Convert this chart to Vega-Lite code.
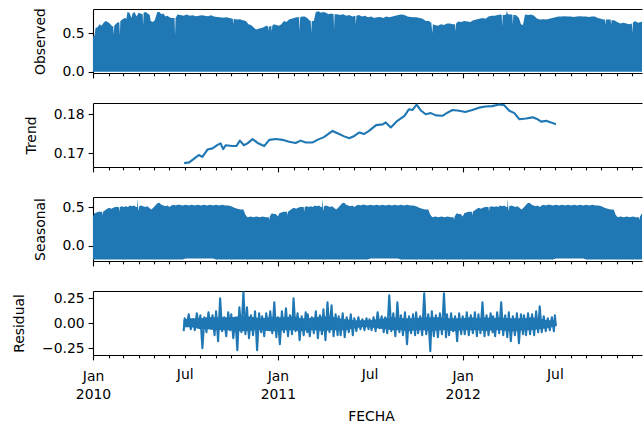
{
  "$schema": "https://vega.github.io/schema/vega-lite/v6.json",
  "padding": {"left": 12, "top": 7, "right": 0, "bottom": 0},
  "autosize": {"type": "pad"},
  "spacing": 30,
  "bounds": "flush",
  "config": {
    "font": "DejaVu Sans",
    "view": {"stroke": null},
    "axis": {
      "domainColor": "#000",
      "domainWidth": 1.1,
      "tickColor": "#000",
      "tickWidth": 1.1,
      "labelColor": "#000",
      "labelFontSize": 13.9,
      "titleFontSize": 13.9,
      "titleFontWeight": "normal",
      "titleColor": "#000",
      "grid": false
    }
  },
  "datasets": {
    "observed": [
      {"t": "2010-01-01", "v": 0.46}, {"t": "2010-01-04", "v": 0.47}, {"t": "2010-01-06", "v": 0.57},
      {"t": "2010-01-10", "v": 0.58}, {"t": "2010-01-14", "v": 0.62}, {"t": "2010-01-18", "v": 0.60},
      {"t": "2010-01-22", "v": 0.64}, {"t": "2010-01-26", "v": 0.66}, {"t": "2010-01-30", "v": 0.65},
      {"t": "2010-02-03", "v": 0.63}, {"t": "2010-02-07", "v": 0.60}, {"t": "2010-02-10", "v": 0.59},
      {"t": "2010-02-11", "v": 0.48}, {"t": "2010-02-12", "v": 0.60}, {"t": "2010-02-16", "v": 0.63},
      {"t": "2010-02-20", "v": 0.65}, {"t": "2010-02-22", "v": 0.64}, {"t": "2010-02-23", "v": 0.48},
      {"t": "2010-02-24", "v": 0.66}, {"t": "2010-02-28", "v": 0.68}, {"t": "2010-03-04", "v": 0.70},
      {"t": "2010-03-08", "v": 0.69}, {"t": "2010-03-10", "v": 0.78}, {"t": "2010-03-14", "v": 0.77},
      {"t": "2010-03-18", "v": 0.70}, {"t": "2010-03-20", "v": 0.76}, {"t": "2010-03-24", "v": 0.78},
      {"t": "2010-03-28", "v": 0.72}, {"t": "2010-04-01", "v": 0.77}, {"t": "2010-04-05", "v": 0.76},
      {"t": "2010-04-09", "v": 0.75}, {"t": "2010-04-10", "v": 0.60}, {"t": "2010-04-11", "v": 0.77},
      {"t": "2010-04-15", "v": 0.78}, {"t": "2010-04-19", "v": 0.76}, {"t": "2010-04-23", "v": 0.74},
      {"t": "2010-04-25", "v": 0.66}, {"t": "2010-04-29", "v": 0.65}, {"t": "2010-05-03", "v": 0.67},
      {"t": "2010-05-08", "v": 0.78}, {"t": "2010-05-12", "v": 0.78}, {"t": "2010-05-16", "v": 0.75},
      {"t": "2010-05-20", "v": 0.76}, {"t": "2010-05-24", "v": 0.72}, {"t": "2010-05-28", "v": 0.73},
      {"t": "2010-06-01", "v": 0.71}, {"t": "2010-06-05", "v": 0.70}, {"t": "2010-06-11", "v": 0.70},
      {"t": "2010-06-12", "v": 0.47}, {"t": "2010-06-13", "v": 0.70}, {"t": "2010-06-17", "v": 0.745},
      {"t": "2010-06-23", "v": 0.74}, {"t": "2010-06-29", "v": 0.73}, {"t": "2010-07-05", "v": 0.745},
      {"t": "2010-07-11", "v": 0.73}, {"t": "2010-07-17", "v": 0.735}, {"t": "2010-07-23", "v": 0.725},
      {"t": "2010-07-29", "v": 0.73}, {"t": "2010-08-04", "v": 0.735}, {"t": "2010-08-10", "v": 0.73},
      {"t": "2010-08-16", "v": 0.725}, {"t": "2010-08-22", "v": 0.735}, {"t": "2010-08-28", "v": 0.72},
      {"t": "2010-09-03", "v": 0.715}, {"t": "2010-09-09", "v": 0.71}, {"t": "2010-09-15", "v": 0.705},
      {"t": "2010-09-21", "v": 0.71}, {"t": "2010-09-27", "v": 0.70}, {"t": "2010-10-04", "v": 0.69},
      {"t": "2010-10-05", "v": 0.62}, {"t": "2010-10-06", "v": 0.69}, {"t": "2010-10-12", "v": 0.68},
      {"t": "2010-10-18", "v": 0.685}, {"t": "2010-10-24", "v": 0.67}, {"t": "2010-10-30", "v": 0.66},
      {"t": "2010-11-04", "v": 0.62}, {"t": "2010-11-09", "v": 0.61}, {"t": "2010-11-14", "v": 0.58},
      {"t": "2010-11-19", "v": 0.55}, {"t": "2010-11-24", "v": 0.56}, {"t": "2010-11-29", "v": 0.57},
      {"t": "2010-12-04", "v": 0.58}, {"t": "2010-12-09", "v": 0.60}, {"t": "2010-12-13", "v": 0.59},
      {"t": "2010-12-14", "v": 0.53}, {"t": "2010-12-15", "v": 0.59}, {"t": "2010-12-19", "v": 0.60},
      {"t": "2010-12-20", "v": 0.52}, {"t": "2010-12-21", "v": 0.60}, {"t": "2010-12-24", "v": 0.62},
      {"t": "2010-12-29", "v": 0.61}, {"t": "2011-01-03", "v": 0.60}, {"t": "2011-01-08", "v": 0.62},
      {"t": "2011-01-13", "v": 0.66}, {"t": "2011-01-18", "v": 0.65}, {"t": "2011-01-23", "v": 0.68},
      {"t": "2011-01-28", "v": 0.69}, {"t": "2011-02-02", "v": 0.70}, {"t": "2011-02-07", "v": 0.71},
      {"t": "2011-02-12", "v": 0.71}, {"t": "2011-02-13", "v": 0.52}, {"t": "2011-02-14", "v": 0.71},
      {"t": "2011-02-18", "v": 0.72}, {"t": "2011-02-23", "v": 0.72}, {"t": "2011-02-28", "v": 0.70},
      {"t": "2011-03-04", "v": 0.67}, {"t": "2011-03-07", "v": 0.66}, {"t": "2011-03-08", "v": 0.50},
      {"t": "2011-03-09", "v": 0.66}, {"t": "2011-03-13", "v": 0.66}, {"t": "2011-03-17", "v": 0.78},
      {"t": "2011-03-22", "v": 0.79}, {"t": "2011-03-27", "v": 0.77}, {"t": "2011-04-01", "v": 0.78},
      {"t": "2011-04-06", "v": 0.77}, {"t": "2011-04-11", "v": 0.75}, {"t": "2011-04-16", "v": 0.76},
      {"t": "2011-04-21", "v": 0.75}, {"t": "2011-04-22", "v": 0.55}, {"t": "2011-04-23", "v": 0.75},
      {"t": "2011-04-28", "v": 0.75}, {"t": "2011-05-04", "v": 0.74}, {"t": "2011-05-10", "v": 0.75},
      {"t": "2011-05-16", "v": 0.73}, {"t": "2011-05-22", "v": 0.74}, {"t": "2011-05-28", "v": 0.72},
      {"t": "2011-06-03", "v": 0.73}, {"t": "2011-06-04", "v": 0.61}, {"t": "2011-06-05", "v": 0.73},
      {"t": "2011-06-10", "v": 0.74}, {"t": "2011-06-16", "v": 0.72}, {"t": "2011-06-22", "v": 0.73},
      {"t": "2011-06-28", "v": 0.71}, {"t": "2011-07-04", "v": 0.72}, {"t": "2011-07-10", "v": 0.70},
      {"t": "2011-07-16", "v": 0.71}, {"t": "2011-07-22", "v": 0.715}, {"t": "2011-07-28", "v": 0.70},
      {"t": "2011-08-03", "v": 0.72}, {"t": "2011-08-09", "v": 0.71}, {"t": "2011-08-15", "v": 0.72},
      {"t": "2011-08-21", "v": 0.73}, {"t": "2011-08-27", "v": 0.74}, {"t": "2011-09-02", "v": 0.745},
      {"t": "2011-09-08", "v": 0.74}, {"t": "2011-09-14", "v": 0.72}, {"t": "2011-09-20", "v": 0.715},
      {"t": "2011-09-26", "v": 0.71}, {"t": "2011-10-02", "v": 0.71}, {"t": "2011-10-08", "v": 0.70},
      {"t": "2011-10-14", "v": 0.69}, {"t": "2011-10-20", "v": 0.66}, {"t": "2011-10-26", "v": 0.66},
      {"t": "2011-10-31", "v": 0.64}, {"t": "2011-11-02", "v": 0.50}, {"t": "2011-11-03", "v": 0.62},
      {"t": "2011-11-07", "v": 0.61}, {"t": "2011-11-13", "v": 0.60}, {"t": "2011-11-19", "v": 0.62},
      {"t": "2011-11-25", "v": 0.61}, {"t": "2011-12-01", "v": 0.63}, {"t": "2011-12-07", "v": 0.63},
      {"t": "2011-12-12", "v": 0.62}, {"t": "2011-12-17", "v": 0.62}, {"t": "2011-12-18", "v": 0.52},
      {"t": "2011-12-19", "v": 0.63}, {"t": "2011-12-23", "v": 0.655}, {"t": "2011-12-29", "v": 0.65},
      {"t": "2012-01-04", "v": 0.66}, {"t": "2012-01-10", "v": 0.655}, {"t": "2012-01-16", "v": 0.65},
      {"t": "2012-01-22", "v": 0.67}, {"t": "2012-01-28", "v": 0.68}, {"t": "2012-02-03", "v": 0.69},
      {"t": "2012-02-09", "v": 0.70}, {"t": "2012-02-15", "v": 0.69}, {"t": "2012-02-21", "v": 0.72},
      {"t": "2012-02-27", "v": 0.73}, {"t": "2012-03-04", "v": 0.73}, {"t": "2012-03-10", "v": 0.74},
      {"t": "2012-03-16", "v": 0.745}, {"t": "2012-03-18", "v": 0.74}, {"t": "2012-03-19", "v": 0.59},
      {"t": "2012-03-20", "v": 0.74}, {"t": "2012-03-24", "v": 0.74}, {"t": "2012-03-27", "v": 0.75},
      {"t": "2012-03-28", "v": 0.80}, {"t": "2012-03-30", "v": 0.75}, {"t": "2012-04-03", "v": 0.745},
      {"t": "2012-04-08", "v": 0.745}, {"t": "2012-04-09", "v": 0.61}, {"t": "2012-04-10", "v": 0.74},
      {"t": "2012-04-15", "v": 0.74}, {"t": "2012-04-21", "v": 0.70}, {"t": "2012-04-25", "v": 0.62},
      {"t": "2012-04-29", "v": 0.61}, {"t": "2012-05-03", "v": 0.745}, {"t": "2012-05-09", "v": 0.74},
      {"t": "2012-05-15", "v": 0.745}, {"t": "2012-05-21", "v": 0.73}, {"t": "2012-05-27", "v": 0.69},
      {"t": "2012-06-02", "v": 0.68}, {"t": "2012-06-08", "v": 0.685}, {"t": "2012-06-14", "v": 0.68},
      {"t": "2012-06-20", "v": 0.69}, {"t": "2012-06-26", "v": 0.70}, {"t": "2012-07-02", "v": 0.71},
      {"t": "2012-07-08", "v": 0.72}, {"t": "2012-07-14", "v": 0.72}, {"t": "2012-07-20", "v": 0.725},
      {"t": "2012-07-26", "v": 0.72}, {"t": "2012-08-01", "v": 0.72}, {"t": "2012-08-07", "v": 0.715},
      {"t": "2012-08-13", "v": 0.72}, {"t": "2012-08-19", "v": 0.725}, {"t": "2012-08-25", "v": 0.72},
      {"t": "2012-08-31", "v": 0.72}, {"t": "2012-09-06", "v": 0.715}, {"t": "2012-09-12", "v": 0.72},
      {"t": "2012-09-18", "v": 0.72}, {"t": "2012-09-24", "v": 0.70}, {"t": "2012-09-30", "v": 0.69},
      {"t": "2012-10-05", "v": 0.68}, {"t": "2012-10-08", "v": 0.68}, {"t": "2012-10-09", "v": 0.61},
      {"t": "2012-10-10", "v": 0.68}, {"t": "2012-10-15", "v": 0.68}, {"t": "2012-10-19", "v": 0.68},
      {"t": "2012-10-20", "v": 0.61}, {"t": "2012-10-21", "v": 0.67}, {"t": "2012-10-26", "v": 0.67},
      {"t": "2012-11-01", "v": 0.65}, {"t": "2012-11-07", "v": 0.63}, {"t": "2012-11-13", "v": 0.64},
      {"t": "2012-11-19", "v": 0.63}, {"t": "2012-11-25", "v": 0.62}, {"t": "2012-11-30", "v": 0.63},
      {"t": "2012-12-01", "v": 0.50}, {"t": "2012-12-02", "v": 0.64}, {"t": "2012-12-06", "v": 0.66},
      {"t": "2012-12-12", "v": 0.64}, {"t": "2012-12-18", "v": 0.65}, {"t": "2012-12-24", "v": 0.66}
    ],
    "trend": [
      {"t": "2010-06-30", "v": 0.1674}, {"t": "2010-07-10", "v": 0.1676}, {"t": "2010-07-23", "v": 0.1689},
      {"t": "2010-07-29", "v": 0.1695}, {"t": "2010-08-05", "v": 0.1690}, {"t": "2010-08-15", "v": 0.1709},
      {"t": "2010-08-25", "v": 0.1712}, {"t": "2010-09-04", "v": 0.1721}, {"t": "2010-09-10", "v": 0.1725},
      {"t": "2010-09-15", "v": 0.1710}, {"t": "2010-09-20", "v": 0.1720}, {"t": "2010-10-03", "v": 0.1718},
      {"t": "2010-10-11", "v": 0.1718}, {"t": "2010-10-18", "v": 0.1732}, {"t": "2010-10-26", "v": 0.1720},
      {"t": "2010-11-02", "v": 0.1725}, {"t": "2010-11-12", "v": 0.1736}, {"t": "2010-11-22", "v": 0.1726},
      {"t": "2010-12-05", "v": 0.1718}, {"t": "2010-12-15", "v": 0.1734}, {"t": "2010-12-28", "v": 0.1736},
      {"t": "2011-01-10", "v": 0.1734}, {"t": "2011-01-23", "v": 0.1729}, {"t": "2011-02-05", "v": 0.1726},
      {"t": "2011-02-15", "v": 0.1732}, {"t": "2011-02-25", "v": 0.1727}, {"t": "2011-03-10", "v": 0.1727},
      {"t": "2011-03-20", "v": 0.1734}, {"t": "2011-04-02", "v": 0.1741}, {"t": "2011-04-19", "v": 0.1757},
      {"t": "2011-05-02", "v": 0.1749}, {"t": "2011-05-12", "v": 0.1743}, {"t": "2011-05-22", "v": 0.1738},
      {"t": "2011-06-01", "v": 0.1744}, {"t": "2011-06-11", "v": 0.1753}, {"t": "2011-06-20", "v": 0.1749},
      {"t": "2011-06-30", "v": 0.1757}, {"t": "2011-07-14", "v": 0.1772}, {"t": "2011-07-27", "v": 0.1774},
      {"t": "2011-08-02", "v": 0.1779}, {"t": "2011-08-12", "v": 0.1766}, {"t": "2011-08-25", "v": 0.1783},
      {"t": "2011-09-08", "v": 0.1796}, {"t": "2011-09-17", "v": 0.1813}, {"t": "2011-09-24", "v": 0.1811},
      {"t": "2011-10-02", "v": 0.1825}, {"t": "2011-10-11", "v": 0.1809}, {"t": "2011-10-20", "v": 0.1800},
      {"t": "2011-10-30", "v": 0.1803}, {"t": "2011-11-09", "v": 0.1797}, {"t": "2011-11-22", "v": 0.1796},
      {"t": "2011-12-02", "v": 0.1804}, {"t": "2011-12-12", "v": 0.1811}, {"t": "2011-12-25", "v": 0.1809},
      {"t": "2012-01-06", "v": 0.1806}, {"t": "2012-01-20", "v": 0.1811}, {"t": "2012-02-02", "v": 0.1817},
      {"t": "2012-02-15", "v": 0.1820}, {"t": "2012-02-28", "v": 0.1821}, {"t": "2012-03-13", "v": 0.1825},
      {"t": "2012-03-23", "v": 0.1823}, {"t": "2012-04-02", "v": 0.1809}, {"t": "2012-04-12", "v": 0.1803},
      {"t": "2012-04-22", "v": 0.1787}, {"t": "2012-05-05", "v": 0.1789}, {"t": "2012-05-18", "v": 0.1792},
      {"t": "2012-05-28", "v": 0.1787}, {"t": "2012-06-04", "v": 0.1781}, {"t": "2012-06-14", "v": 0.1783},
      {"t": "2012-06-23", "v": 0.1779}, {"t": "2012-07-03", "v": 0.1774}
    ],
    "seasonal": [
      {"t": "2010-01-01", "hi": 0.38, "lo": -0.175}, {"t": "2010-01-04", "hi": 0.42, "lo": -0.175}, {"t": "2010-01-08", "hi": 0.43, "lo": -0.175},
      {"t": "2010-01-12", "hi": 0.44, "lo": -0.175}, {"t": "2010-01-19", "hi": 0.44, "lo": -0.175}, {"t": "2010-01-20", "hi": 0.39, "lo": -0.175},
      {"t": "2010-01-21", "hi": 0.44, "lo": -0.175}, {"t": "2010-01-25", "hi": 0.46, "lo": -0.175}, {"t": "2010-01-29", "hi": 0.48, "lo": -0.175},
      {"t": "2010-02-02", "hi": 0.49, "lo": -0.175}, {"t": "2010-02-06", "hi": 0.48, "lo": -0.175}, {"t": "2010-02-10", "hi": 0.49, "lo": -0.175},
      {"t": "2010-02-14", "hi": 0.50, "lo": -0.175}, {"t": "2010-02-18", "hi": 0.50, "lo": -0.175}, {"t": "2010-02-21", "hi": 0.50, "lo": -0.175},
      {"t": "2010-02-22", "hi": 0.44, "lo": -0.175}, {"t": "2010-02-23", "hi": 0.50, "lo": -0.175}, {"t": "2010-02-27", "hi": 0.51, "lo": -0.175},
      {"t": "2010-03-03", "hi": 0.50, "lo": -0.175}, {"t": "2010-03-07", "hi": 0.51, "lo": -0.175}, {"t": "2010-03-11", "hi": 0.50, "lo": -0.175},
      {"t": "2010-03-15", "hi": 0.52, "lo": -0.175}, {"t": "2010-03-19", "hi": 0.51, "lo": -0.175}, {"t": "2010-03-23", "hi": 0.52, "lo": -0.175},
      {"t": "2010-03-27", "hi": 0.50, "lo": -0.175}, {"t": "2010-03-29", "hi": 0.50, "lo": -0.175}, {"t": "2010-03-30", "hi": 0.61, "lo": -0.175},
      {"t": "2010-03-31", "hi": 0.49, "lo": -0.175}, {"t": "2010-04-01", "hi": 0.45, "lo": -0.175}, {"t": "2010-04-02", "hi": 0.51, "lo": -0.175},
      {"t": "2010-04-06", "hi": 0.52, "lo": -0.175}, {"t": "2010-04-10", "hi": 0.51, "lo": -0.175}, {"t": "2010-04-14", "hi": 0.50, "lo": -0.175},
      {"t": "2010-04-18", "hi": 0.51, "lo": -0.175}, {"t": "2010-04-22", "hi": 0.49, "lo": -0.175}, {"t": "2010-04-26", "hi": 0.47, "lo": -0.175},
      {"t": "2010-04-30", "hi": 0.49, "lo": -0.175}, {"t": "2010-05-04", "hi": 0.52, "lo": -0.175}, {"t": "2010-05-08", "hi": 0.55, "lo": -0.175},
      {"t": "2010-05-12", "hi": 0.555, "lo": -0.175}, {"t": "2010-05-16", "hi": 0.53, "lo": -0.175}, {"t": "2010-05-20", "hi": 0.52, "lo": -0.175},
      {"t": "2010-05-24", "hi": 0.51, "lo": -0.175}, {"t": "2010-05-28", "hi": 0.52, "lo": -0.175}, {"t": "2010-06-01", "hi": 0.50, "lo": -0.175},
      {"t": "2010-06-05", "hi": 0.52, "lo": -0.175}, {"t": "2010-06-09", "hi": 0.53, "lo": -0.175}, {"t": "2010-06-13", "hi": 0.52, "lo": -0.175},
      {"t": "2010-06-17", "hi": 0.53, "lo": -0.175}, {"t": "2010-06-21", "hi": 0.53, "lo": -0.175}, {"t": "2010-06-27", "hi": 0.52, "lo": -0.175},
      {"t": "2010-07-03", "hi": 0.53, "lo": -0.162}, {"t": "2010-07-09", "hi": 0.52, "lo": -0.162}, {"t": "2010-07-15", "hi": 0.53, "lo": -0.162},
      {"t": "2010-07-21", "hi": 0.52, "lo": -0.162}, {"t": "2010-07-27", "hi": 0.53, "lo": -0.162}, {"t": "2010-08-02", "hi": 0.52, "lo": -0.162},
      {"t": "2010-08-08", "hi": 0.53, "lo": -0.162}, {"t": "2010-08-14", "hi": 0.52, "lo": -0.162}, {"t": "2010-08-20", "hi": 0.53, "lo": -0.162},
      {"t": "2010-08-26", "hi": 0.52, "lo": -0.162}, {"t": "2010-09-01", "hi": 0.53, "lo": -0.175}, {"t": "2010-09-07", "hi": 0.52, "lo": -0.175},
      {"t": "2010-09-13", "hi": 0.53, "lo": -0.175}, {"t": "2010-09-19", "hi": 0.52, "lo": -0.175}, {"t": "2010-09-25", "hi": 0.52, "lo": -0.175},
      {"t": "2010-10-01", "hi": 0.51, "lo": -0.175}, {"t": "2010-10-07", "hi": 0.49, "lo": -0.175}, {"t": "2010-10-13", "hi": 0.48, "lo": -0.175},
      {"t": "2010-10-19", "hi": 0.47, "lo": -0.175}, {"t": "2010-10-25", "hi": 0.47, "lo": -0.175}, {"t": "2010-10-29", "hi": 0.40, "lo": -0.175},
      {"t": "2010-11-02", "hi": 0.37, "lo": -0.175}, {"t": "2010-11-08", "hi": 0.38, "lo": -0.175}, {"t": "2010-11-14", "hi": 0.37, "lo": -0.175},
      {"t": "2010-11-20", "hi": 0.38, "lo": -0.175}, {"t": "2010-11-26", "hi": 0.37, "lo": -0.175}, {"t": "2010-12-02", "hi": 0.38, "lo": -0.175},
      {"t": "2010-12-08", "hi": 0.37, "lo": -0.175}, {"t": "2010-12-14", "hi": 0.37, "lo": -0.175}, {"t": "2010-12-15", "hi": 0.33, "lo": -0.175},
      {"t": "2010-12-16", "hi": 0.38, "lo": -0.175}, {"t": "2010-12-20", "hi": 0.42, "lo": -0.175}, {"t": "2010-12-24", "hi": 0.41, "lo": -0.175},
      {"t": "2010-12-28", "hi": 0.41, "lo": -0.175},
      {"t": "2011-01-01", "hi": 0.38, "lo": -0.175}, {"t": "2011-01-04", "hi": 0.42, "lo": -0.175}, {"t": "2011-01-08", "hi": 0.43, "lo": -0.175},
      {"t": "2011-01-12", "hi": 0.44, "lo": -0.175}, {"t": "2011-01-19", "hi": 0.44, "lo": -0.175}, {"t": "2011-01-20", "hi": 0.39, "lo": -0.175},
      {"t": "2011-01-21", "hi": 0.44, "lo": -0.175}, {"t": "2011-01-25", "hi": 0.46, "lo": -0.175}, {"t": "2011-01-29", "hi": 0.48, "lo": -0.175},
      {"t": "2011-02-02", "hi": 0.49, "lo": -0.175}, {"t": "2011-02-06", "hi": 0.48, "lo": -0.175}, {"t": "2011-02-10", "hi": 0.49, "lo": -0.175},
      {"t": "2011-02-14", "hi": 0.50, "lo": -0.175}, {"t": "2011-02-18", "hi": 0.50, "lo": -0.175}, {"t": "2011-02-21", "hi": 0.50, "lo": -0.175},
      {"t": "2011-02-22", "hi": 0.44, "lo": -0.175}, {"t": "2011-02-23", "hi": 0.50, "lo": -0.175}, {"t": "2011-02-27", "hi": 0.51, "lo": -0.175},
      {"t": "2011-03-03", "hi": 0.50, "lo": -0.175}, {"t": "2011-03-07", "hi": 0.51, "lo": -0.175}, {"t": "2011-03-11", "hi": 0.50, "lo": -0.175},
      {"t": "2011-03-15", "hi": 0.52, "lo": -0.175}, {"t": "2011-03-19", "hi": 0.51, "lo": -0.175}, {"t": "2011-03-23", "hi": 0.52, "lo": -0.175},
      {"t": "2011-03-27", "hi": 0.50, "lo": -0.175}, {"t": "2011-03-29", "hi": 0.50, "lo": -0.175}, {"t": "2011-03-30", "hi": 0.61, "lo": -0.175},
      {"t": "2011-03-31", "hi": 0.49, "lo": -0.175}, {"t": "2011-04-01", "hi": 0.45, "lo": -0.175}, {"t": "2011-04-02", "hi": 0.51, "lo": -0.175},
      {"t": "2011-04-06", "hi": 0.52, "lo": -0.175}, {"t": "2011-04-10", "hi": 0.51, "lo": -0.175}, {"t": "2011-04-14", "hi": 0.50, "lo": -0.175},
      {"t": "2011-04-18", "hi": 0.51, "lo": -0.175}, {"t": "2011-04-22", "hi": 0.49, "lo": -0.175}, {"t": "2011-04-26", "hi": 0.47, "lo": -0.175},
      {"t": "2011-04-30", "hi": 0.49, "lo": -0.175}, {"t": "2011-05-04", "hi": 0.52, "lo": -0.175}, {"t": "2011-05-08", "hi": 0.55, "lo": -0.175},
      {"t": "2011-05-12", "hi": 0.555, "lo": -0.175}, {"t": "2011-05-16", "hi": 0.53, "lo": -0.175}, {"t": "2011-05-20", "hi": 0.52, "lo": -0.175},
      {"t": "2011-05-24", "hi": 0.51, "lo": -0.175}, {"t": "2011-05-28", "hi": 0.52, "lo": -0.175}, {"t": "2011-06-01", "hi": 0.50, "lo": -0.175},
      {"t": "2011-06-05", "hi": 0.52, "lo": -0.175}, {"t": "2011-06-09", "hi": 0.53, "lo": -0.175}, {"t": "2011-06-13", "hi": 0.52, "lo": -0.175},
      {"t": "2011-06-17", "hi": 0.53, "lo": -0.175}, {"t": "2011-06-21", "hi": 0.53, "lo": -0.175}, {"t": "2011-06-27", "hi": 0.52, "lo": -0.175},
      {"t": "2011-07-03", "hi": 0.53, "lo": -0.162}, {"t": "2011-07-09", "hi": 0.52, "lo": -0.162}, {"t": "2011-07-15", "hi": 0.53, "lo": -0.162},
      {"t": "2011-07-21", "hi": 0.52, "lo": -0.162}, {"t": "2011-07-27", "hi": 0.53, "lo": -0.162}, {"t": "2011-08-02", "hi": 0.52, "lo": -0.162},
      {"t": "2011-08-08", "hi": 0.53, "lo": -0.162}, {"t": "2011-08-14", "hi": 0.52, "lo": -0.162}, {"t": "2011-08-20", "hi": 0.53, "lo": -0.162},
      {"t": "2011-08-26", "hi": 0.52, "lo": -0.162}, {"t": "2011-09-01", "hi": 0.53, "lo": -0.175}, {"t": "2011-09-07", "hi": 0.52, "lo": -0.175},
      {"t": "2011-09-13", "hi": 0.53, "lo": -0.175}, {"t": "2011-09-19", "hi": 0.52, "lo": -0.175}, {"t": "2011-09-25", "hi": 0.52, "lo": -0.175},
      {"t": "2011-10-01", "hi": 0.51, "lo": -0.175}, {"t": "2011-10-07", "hi": 0.49, "lo": -0.175}, {"t": "2011-10-13", "hi": 0.48, "lo": -0.175},
      {"t": "2011-10-19", "hi": 0.47, "lo": -0.175}, {"t": "2011-10-25", "hi": 0.47, "lo": -0.175}, {"t": "2011-10-29", "hi": 0.40, "lo": -0.175},
      {"t": "2011-11-02", "hi": 0.37, "lo": -0.175}, {"t": "2011-11-08", "hi": 0.38, "lo": -0.175}, {"t": "2011-11-14", "hi": 0.37, "lo": -0.175},
      {"t": "2011-11-20", "hi": 0.38, "lo": -0.175}, {"t": "2011-11-26", "hi": 0.37, "lo": -0.175}, {"t": "2011-12-02", "hi": 0.38, "lo": -0.175},
      {"t": "2011-12-08", "hi": 0.37, "lo": -0.175}, {"t": "2011-12-14", "hi": 0.37, "lo": -0.175}, {"t": "2011-12-15", "hi": 0.33, "lo": -0.175},
      {"t": "2011-12-16", "hi": 0.38, "lo": -0.175}, {"t": "2011-12-20", "hi": 0.42, "lo": -0.175}, {"t": "2011-12-24", "hi": 0.41, "lo": -0.175},
      {"t": "2011-12-28", "hi": 0.41, "lo": -0.175},
      {"t": "2012-01-01", "hi": 0.38, "lo": -0.175}, {"t": "2012-01-04", "hi": 0.42, "lo": -0.175}, {"t": "2012-01-08", "hi": 0.43, "lo": -0.175},
      {"t": "2012-01-12", "hi": 0.44, "lo": -0.175}, {"t": "2012-01-19", "hi": 0.44, "lo": -0.175}, {"t": "2012-01-20", "hi": 0.39, "lo": -0.175},
      {"t": "2012-01-21", "hi": 0.44, "lo": -0.175}, {"t": "2012-01-25", "hi": 0.46, "lo": -0.175}, {"t": "2012-01-29", "hi": 0.48, "lo": -0.175},
      {"t": "2012-02-02", "hi": 0.49, "lo": -0.175}, {"t": "2012-02-06", "hi": 0.48, "lo": -0.175}, {"t": "2012-02-10", "hi": 0.49, "lo": -0.175},
      {"t": "2012-02-14", "hi": 0.50, "lo": -0.175}, {"t": "2012-02-18", "hi": 0.50, "lo": -0.175}, {"t": "2012-02-21", "hi": 0.50, "lo": -0.175},
      {"t": "2012-02-22", "hi": 0.44, "lo": -0.175}, {"t": "2012-02-23", "hi": 0.50, "lo": -0.175}, {"t": "2012-02-27", "hi": 0.51, "lo": -0.175},
      {"t": "2012-03-03", "hi": 0.50, "lo": -0.175}, {"t": "2012-03-07", "hi": 0.51, "lo": -0.175}, {"t": "2012-03-11", "hi": 0.50, "lo": -0.175},
      {"t": "2012-03-15", "hi": 0.52, "lo": -0.175}, {"t": "2012-03-19", "hi": 0.51, "lo": -0.175}, {"t": "2012-03-23", "hi": 0.52, "lo": -0.175},
      {"t": "2012-03-27", "hi": 0.50, "lo": -0.175}, {"t": "2012-03-29", "hi": 0.50, "lo": -0.175}, {"t": "2012-03-30", "hi": 0.61, "lo": -0.175},
      {"t": "2012-03-31", "hi": 0.49, "lo": -0.175}, {"t": "2012-04-01", "hi": 0.45, "lo": -0.175}, {"t": "2012-04-02", "hi": 0.51, "lo": -0.175},
      {"t": "2012-04-06", "hi": 0.52, "lo": -0.175}, {"t": "2012-04-10", "hi": 0.51, "lo": -0.175}, {"t": "2012-04-14", "hi": 0.50, "lo": -0.175},
      {"t": "2012-04-18", "hi": 0.51, "lo": -0.175}, {"t": "2012-04-22", "hi": 0.49, "lo": -0.175}, {"t": "2012-04-26", "hi": 0.47, "lo": -0.175},
      {"t": "2012-04-30", "hi": 0.49, "lo": -0.175}, {"t": "2012-05-04", "hi": 0.52, "lo": -0.175}, {"t": "2012-05-08", "hi": 0.55, "lo": -0.175},
      {"t": "2012-05-12", "hi": 0.555, "lo": -0.175}, {"t": "2012-05-16", "hi": 0.53, "lo": -0.175}, {"t": "2012-05-20", "hi": 0.52, "lo": -0.175},
      {"t": "2012-05-24", "hi": 0.51, "lo": -0.175}, {"t": "2012-05-28", "hi": 0.52, "lo": -0.175}, {"t": "2012-06-01", "hi": 0.50, "lo": -0.175},
      {"t": "2012-06-05", "hi": 0.52, "lo": -0.175}, {"t": "2012-06-09", "hi": 0.53, "lo": -0.175}, {"t": "2012-06-13", "hi": 0.52, "lo": -0.175},
      {"t": "2012-06-17", "hi": 0.53, "lo": -0.175}, {"t": "2012-06-21", "hi": 0.53, "lo": -0.175}, {"t": "2012-06-27", "hi": 0.52, "lo": -0.175},
      {"t": "2012-07-03", "hi": 0.53, "lo": -0.162}, {"t": "2012-07-09", "hi": 0.52, "lo": -0.162}, {"t": "2012-07-15", "hi": 0.53, "lo": -0.162},
      {"t": "2012-07-21", "hi": 0.52, "lo": -0.162}, {"t": "2012-07-27", "hi": 0.53, "lo": -0.162}, {"t": "2012-08-02", "hi": 0.52, "lo": -0.162},
      {"t": "2012-08-08", "hi": 0.53, "lo": -0.162}, {"t": "2012-08-14", "hi": 0.52, "lo": -0.162}, {"t": "2012-08-20", "hi": 0.53, "lo": -0.162},
      {"t": "2012-08-26", "hi": 0.52, "lo": -0.162}, {"t": "2012-09-01", "hi": 0.53, "lo": -0.175}, {"t": "2012-09-07", "hi": 0.52, "lo": -0.175},
      {"t": "2012-09-13", "hi": 0.53, "lo": -0.175}, {"t": "2012-09-19", "hi": 0.52, "lo": -0.175}, {"t": "2012-09-25", "hi": 0.52, "lo": -0.175},
      {"t": "2012-10-01", "hi": 0.51, "lo": -0.175}, {"t": "2012-10-07", "hi": 0.49, "lo": -0.175}, {"t": "2012-10-13", "hi": 0.48, "lo": -0.175},
      {"t": "2012-10-19", "hi": 0.47, "lo": -0.175}, {"t": "2012-10-25", "hi": 0.47, "lo": -0.175}, {"t": "2012-10-29", "hi": 0.40, "lo": -0.175},
      {"t": "2012-11-02", "hi": 0.37, "lo": -0.175}, {"t": "2012-11-08", "hi": 0.38, "lo": -0.175}, {"t": "2012-11-14", "hi": 0.37, "lo": -0.175},
      {"t": "2012-11-20", "hi": 0.38, "lo": -0.175}, {"t": "2012-11-26", "hi": 0.37, "lo": -0.175}, {"t": "2012-12-02", "hi": 0.38, "lo": -0.175},
      {"t": "2012-12-08", "hi": 0.37, "lo": -0.175}, {"t": "2012-12-14", "hi": 0.37, "lo": -0.175}, {"t": "2012-12-15", "hi": 0.33, "lo": -0.175},
      {"t": "2012-12-16", "hi": 0.38, "lo": -0.175}, {"t": "2012-12-20", "hi": 0.42, "lo": -0.175}, {"t": "2012-12-24", "hi": 0.41, "lo": -0.175}
    ],
    "residual_core": [
      {"t": "2010-06-29", "hi": 0.03, "lo": -0.06}, {"t": "2010-07-01", "hi": 0.04, "lo": -0.04}, {"t": "2010-07-15", "hi": 0.05, "lo": -0.04},
      {"t": "2010-08-01", "hi": 0.05, "lo": -0.06}, {"t": "2010-08-15", "hi": 0.06, "lo": -0.06}, {"t": "2010-09-01", "hi": 0.06, "lo": -0.07},
      {"t": "2010-09-15", "hi": 0.06, "lo": -0.07}, {"t": "2010-10-01", "hi": 0.06, "lo": -0.07}, {"t": "2010-10-15", "hi": 0.07, "lo": -0.08},
      {"t": "2010-11-01", "hi": 0.07, "lo": -0.08}, {"t": "2010-11-15", "hi": 0.06, "lo": -0.07}, {"t": "2010-12-01", "hi": 0.05, "lo": -0.07},
      {"t": "2010-12-15", "hi": 0.06, "lo": -0.08}, {"t": "2011-01-01", "hi": 0.06, "lo": -0.08}, {"t": "2011-01-15", "hi": 0.06, "lo": -0.07},
      {"t": "2011-02-01", "hi": 0.07, "lo": -0.07}, {"t": "2011-02-15", "hi": 0.05, "lo": -0.08}, {"t": "2011-03-01", "hi": 0.05, "lo": -0.07},
      {"t": "2011-03-15", "hi": 0.06, "lo": -0.07}, {"t": "2011-04-01", "hi": 0.07, "lo": -0.08}, {"t": "2011-04-15", "hi": 0.07, "lo": -0.07},
      {"t": "2011-05-01", "hi": 0.05, "lo": -0.07}, {"t": "2011-05-15", "hi": 0.04, "lo": -0.07}, {"t": "2011-06-01", "hi": 0.03, "lo": -0.05},
      {"t": "2011-06-15", "hi": 0.03, "lo": -0.04}, {"t": "2011-07-01", "hi": 0.03, "lo": -0.04}, {"t": "2011-07-15", "hi": 0.04, "lo": -0.05},
      {"t": "2011-08-01", "hi": 0.05, "lo": -0.06}, {"t": "2011-08-15", "hi": 0.06, "lo": -0.07}, {"t": "2011-09-01", "hi": 0.05, "lo": -0.07},
      {"t": "2011-09-15", "hi": 0.05, "lo": -0.08}, {"t": "2011-10-01", "hi": 0.05, "lo": -0.07}, {"t": "2011-10-15", "hi": 0.06, "lo": -0.07},
      {"t": "2011-11-01", "hi": 0.06, "lo": -0.08}, {"t": "2011-11-15", "hi": 0.06, "lo": -0.07}, {"t": "2011-12-01", "hi": 0.05, "lo": -0.07},
      {"t": "2011-12-15", "hi": 0.05, "lo": -0.08}, {"t": "2012-01-01", "hi": 0.05, "lo": -0.07}, {"t": "2012-01-15", "hi": 0.06, "lo": -0.07},
      {"t": "2012-02-01", "hi": 0.05, "lo": -0.07}, {"t": "2012-02-15", "hi": 0.06, "lo": -0.08}, {"t": "2012-03-01", "hi": 0.05, "lo": -0.07},
      {"t": "2012-03-15", "hi": 0.06, "lo": -0.07}, {"t": "2012-04-01", "hi": 0.05, "lo": -0.08}, {"t": "2012-04-15", "hi": 0.05, "lo": -0.08},
      {"t": "2012-05-01", "hi": 0.05, "lo": -0.07}, {"t": "2012-05-15", "hi": 0.06, "lo": -0.07}, {"t": "2012-06-01", "hi": 0.05, "lo": -0.06},
      {"t": "2012-06-15", "hi": 0.03, "lo": -0.05}, {"t": "2012-07-03", "hi": 0.03, "lo": -0.03}
    ],
    "residual": [
      {"t": "2010-06-29", "v": -0.08},
      {"t": "2010-07-01", "v": 0.05}, {"t": "2010-07-05", "v": -0.03}, {"t": "2010-07-09", "v": 0.09}, {"t": "2010-07-13", "v": -0.06},
      {"t": "2010-07-17", "v": 0.04}, {"t": "2010-07-21", "v": -0.07}, {"t": "2010-07-25", "v": 0.10}, {"t": "2010-07-29", "v": -0.04},
      {"t": "2010-08-01", "v": 0.08}, {"t": "2010-08-05", "v": -0.25}, {"t": "2010-08-09", "v": 0.06}, {"t": "2010-08-13", "v": -0.09},
      {"t": "2010-08-17", "v": 0.11}, {"t": "2010-08-21", "v": -0.05}, {"t": "2010-08-25", "v": 0.08}, {"t": "2010-08-29", "v": -0.12},
      {"t": "2010-09-01", "v": 0.12}, {"t": "2010-09-05", "v": -0.18}, {"t": "2010-09-09", "v": 0.25}, {"t": "2010-09-13", "v": -0.08},
      {"t": "2010-09-17", "v": 0.06}, {"t": "2010-09-21", "v": -0.13}, {"t": "2010-09-25", "v": 0.11}, {"t": "2010-09-29", "v": -0.07},
      {"t": "2010-10-01", "v": 0.09}, {"t": "2010-10-05", "v": -0.15}, {"t": "2010-10-09", "v": 0.05}, {"t": "2010-10-13", "v": -0.27},
      {"t": "2010-10-17", "v": 0.16}, {"t": "2010-10-21", "v": -0.09}, {"t": "2010-10-25", "v": 0.31}, {"t": "2010-10-29", "v": -0.11},
      {"t": "2010-11-01", "v": 0.16}, {"t": "2010-11-05", "v": -0.15}, {"t": "2010-11-09", "v": 0.08}, {"t": "2010-11-13", "v": -0.12},
      {"t": "2010-11-17", "v": 0.12}, {"t": "2010-11-21", "v": -0.27}, {"t": "2010-11-25", "v": 0.10}, {"t": "2010-11-29", "v": -0.09},
      {"t": "2010-12-01", "v": 0.07}, {"t": "2010-12-05", "v": -0.13}, {"t": "2010-12-09", "v": 0.10}, {"t": "2010-12-13", "v": -0.06},
      {"t": "2010-12-17", "v": 0.12}, {"t": "2010-12-21", "v": -0.10}, {"t": "2010-12-25", "v": 0.21}, {"t": "2010-12-29", "v": -0.14},
      {"t": "2011-01-01", "v": 0.06}, {"t": "2011-01-05", "v": -0.21}, {"t": "2011-01-09", "v": 0.12}, {"t": "2011-01-13", "v": -0.09},
      {"t": "2011-01-17", "v": 0.15}, {"t": "2011-01-21", "v": -0.13}, {"t": "2011-01-25", "v": 0.08}, {"t": "2011-01-29", "v": -0.11},
      {"t": "2011-02-01", "v": 0.25}, {"t": "2011-02-05", "v": -0.08}, {"t": "2011-02-09", "v": 0.10}, {"t": "2011-02-13", "v": -0.17},
      {"t": "2011-02-17", "v": 0.07}, {"t": "2011-02-21", "v": -0.12}, {"t": "2011-02-25", "v": 0.11}, {"t": "2011-02-28", "v": -0.09},
      {"t": "2011-03-01", "v": 0.09}, {"t": "2011-03-05", "v": -0.13}, {"t": "2011-03-09", "v": 0.06}, {"t": "2011-03-13", "v": -0.10},
      {"t": "2011-03-17", "v": 0.12}, {"t": "2011-03-21", "v": -0.15}, {"t": "2011-03-25", "v": 0.08}, {"t": "2011-03-29", "v": -0.11},
      {"t": "2011-04-01", "v": 0.14}, {"t": "2011-04-05", "v": -0.17}, {"t": "2011-04-09", "v": 0.21}, {"t": "2011-04-13", "v": -0.09},
      {"t": "2011-04-17", "v": 0.18}, {"t": "2011-04-21", "v": -0.13}, {"t": "2011-04-25", "v": 0.09}, {"t": "2011-04-29", "v": -0.12},
      {"t": "2011-05-01", "v": 0.07}, {"t": "2011-05-05", "v": -0.12}, {"t": "2011-05-09", "v": 0.10}, {"t": "2011-05-13", "v": -0.14},
      {"t": "2011-05-17", "v": 0.06}, {"t": "2011-05-21", "v": -0.09}, {"t": "2011-05-25", "v": 0.09}, {"t": "2011-05-29", "v": -0.12},
      {"t": "2011-06-01", "v": 0.05}, {"t": "2011-06-05", "v": -0.08}, {"t": "2011-06-09", "v": 0.06}, {"t": "2011-06-13", "v": -0.06},
      {"t": "2011-06-17", "v": 0.04}, {"t": "2011-06-21", "v": -0.07}, {"t": "2011-06-25", "v": 0.05}, {"t": "2011-06-29", "v": -0.06},
      {"t": "2011-07-01", "v": 0.04}, {"t": "2011-07-05", "v": -0.07}, {"t": "2011-07-09", "v": 0.06}, {"t": "2011-07-13", "v": -0.08},
      {"t": "2011-07-17", "v": 0.11}, {"t": "2011-07-21", "v": -0.05}, {"t": "2011-07-25", "v": 0.07}, {"t": "2011-07-29", "v": -0.09},
      {"t": "2011-08-01", "v": 0.06}, {"t": "2011-08-05", "v": -0.10}, {"t": "2011-08-09", "v": 0.28}, {"t": "2011-08-13", "v": -0.08},
      {"t": "2011-08-17", "v": 0.10}, {"t": "2011-08-21", "v": -0.13}, {"t": "2011-08-25", "v": 0.21}, {"t": "2011-08-29", "v": -0.09},
      {"t": "2011-09-01", "v": 0.08}, {"t": "2011-09-05", "v": -0.12}, {"t": "2011-09-09", "v": 0.11}, {"t": "2011-09-13", "v": -0.21},
      {"t": "2011-09-17", "v": 0.07}, {"t": "2011-09-21", "v": -0.10}, {"t": "2011-09-25", "v": 0.09}, {"t": "2011-09-29", "v": -0.12},
      {"t": "2011-10-01", "v": 0.11}, {"t": "2011-10-05", "v": -0.10}, {"t": "2011-10-09", "v": 0.07}, {"t": "2011-10-13", "v": -0.12},
      {"t": "2011-10-17", "v": 0.30}, {"t": "2011-10-21", "v": -0.11}, {"t": "2011-10-25", "v": 0.09}, {"t": "2011-10-29", "v": -0.28},
      {"t": "2011-11-01", "v": 0.12}, {"t": "2011-11-05", "v": -0.13}, {"t": "2011-11-09", "v": 0.08}, {"t": "2011-11-13", "v": -0.14},
      {"t": "2011-11-17", "v": 0.10}, {"t": "2011-11-21", "v": -0.11}, {"t": "2011-11-25", "v": 0.30}, {"t": "2011-11-29", "v": -0.14},
      {"t": "2011-12-01", "v": 0.09}, {"t": "2011-12-05", "v": -0.12}, {"t": "2011-12-09", "v": 0.10}, {"t": "2011-12-13", "v": -0.08},
      {"t": "2011-12-17", "v": 0.07}, {"t": "2011-12-21", "v": -0.18}, {"t": "2011-12-25", "v": 0.10}, {"t": "2011-12-29", "v": -0.11},
      {"t": "2012-01-01", "v": 0.07}, {"t": "2012-01-05", "v": -0.11}, {"t": "2012-01-09", "v": 0.11}, {"t": "2012-01-13", "v": -0.12},
      {"t": "2012-01-17", "v": 0.08}, {"t": "2012-01-21", "v": -0.10}, {"t": "2012-01-25", "v": 0.11}, {"t": "2012-01-29", "v": -0.13},
      {"t": "2012-02-01", "v": 0.09}, {"t": "2012-02-05", "v": -0.10}, {"t": "2012-02-09", "v": 0.21}, {"t": "2012-02-13", "v": -0.13},
      {"t": "2012-02-17", "v": 0.08}, {"t": "2012-02-21", "v": -0.12}, {"t": "2012-02-25", "v": 0.10}, {"t": "2012-02-29", "v": -0.09},
      {"t": "2012-03-01", "v": 0.07}, {"t": "2012-03-05", "v": -0.13}, {"t": "2012-03-09", "v": 0.11}, {"t": "2012-03-13", "v": -0.10},
      {"t": "2012-03-17", "v": 0.21}, {"t": "2012-03-21", "v": -0.12}, {"t": "2012-03-25", "v": 0.08}, {"t": "2012-03-29", "v": -0.14},
      {"t": "2012-04-01", "v": 0.11}, {"t": "2012-04-05", "v": -0.18}, {"t": "2012-04-09", "v": 0.07}, {"t": "2012-04-13", "v": -0.12},
      {"t": "2012-04-17", "v": 0.10}, {"t": "2012-04-21", "v": -0.20}, {"t": "2012-04-25", "v": 0.09}, {"t": "2012-04-29", "v": -0.11},
      {"t": "2012-05-01", "v": 0.08}, {"t": "2012-05-05", "v": -0.12}, {"t": "2012-05-09", "v": 0.10}, {"t": "2012-05-13", "v": -0.11},
      {"t": "2012-05-17", "v": 0.09}, {"t": "2012-05-21", "v": -0.12}, {"t": "2012-05-25", "v": 0.12}, {"t": "2012-05-29", "v": -0.09},
      {"t": "2012-06-01", "v": 0.17}, {"t": "2012-06-05", "v": -0.09}, {"t": "2012-06-09", "v": 0.07}, {"t": "2012-06-13", "v": -0.08},
      {"t": "2012-06-17", "v": 0.05}, {"t": "2012-06-21", "v": -0.07}, {"t": "2012-06-25", "v": 0.06}, {"t": "2012-06-29", "v": -0.08},
      {"t": "2012-07-01", "v": 0.08}, {"t": "2012-07-03", "v": -0.03}
    ]
  },
  "vconcat": [
    {
      "width": 549,
      "height": 64,
      "layer": [
        {
          "data": {"name": "observed"},
          "mark": {"type": "area", "color": "#1f77b4", "opacity": 1, "clip": true},
          "encoding": {
            "x": {
              "field": "t", "type": "temporal",
              "scale": {"type": "utc", "domain": [{"year": 2010, "month": 1, "date": 1, "utc": true}, {"year": 2012, "month": 12, "date": 20, "utc": true}]},
              "axis": {"orient": "bottom", "labels": false, "title": null, "tickCount": {"interval": "month", "step": 1},
                       "tickSize": {"condition": {"test": "utcmonth(datum.value) === 0", "value": 4.9}, "value": 2.8}}
            },
            "y": {
              "field": "v", "type": "quantitative",
              "scale": {"domain": [-0.017, 0.818], "nice": false, "zero": false},
              "axis": {"title": "Observed", "values": [0, 0.5], "format": ".1f", "tickSize": 4.9, "labelPadding": 4, "titlePadding": 15}
            },
            "y2": {"datum": 0}
          }
        },
        {
          "data": {"name": "observed"},
          "mark": {"type": "point", "opacity": 0},
          "encoding": {
            "x": {"field": "t", "type": "temporal", "axis": {"orient": "top", "labels": false, "ticks": false, "title": null}}
          }
        }
      ],
      "resolve": {"axis": {"x": "independent"}}
    },
    {
      "width": 549,
      "height": 64,
      "layer": [
        {
          "data": {"name": "trend"},
          "mark": {"type": "line", "color": "#1f77b4", "strokeWidth": 2.1, "strokeJoin": "round", "clip": true},
          "encoding": {
            "x": {
              "field": "t", "type": "temporal",
              "scale": {"type": "utc", "domain": [{"year": 2010, "month": 1, "date": 1, "utc": true}, {"year": 2012, "month": 12, "date": 20, "utc": true}]},
              "axis": {"orient": "bottom", "labels": false, "title": null, "tickCount": {"interval": "month", "step": 1},
                       "tickSize": {"condition": {"test": "utcmonth(datum.value) === 0", "value": 4.9}, "value": 2.8}}
            },
            "y": {
              "field": "v", "type": "quantitative",
              "scale": {"domain": [0.1664, 0.1829], "nice": false, "zero": false},
              "axis": {"title": "Trend", "values": [0.17, 0.18], "format": ".2f", "tickSize": 4.9, "labelPadding": 4, "titlePadding": 15}
            }
          }
        },
        {
          "data": {"name": "trend"},
          "mark": {"type": "point", "opacity": 0},
          "encoding": {
            "x": {"field": "t", "type": "temporal", "axis": {"orient": "top", "labels": false, "ticks": false, "title": null}}
          }
        }
      ],
      "resolve": {"axis": {"x": "independent"}}
    },
    {
      "width": 549,
      "height": 64,
      "layer": [
        {
          "data": {"name": "seasonal"},
          "mark": {"type": "area", "color": "#1f77b4", "opacity": 1, "clip": true},
          "encoding": {
            "x": {
              "field": "t", "type": "temporal",
              "scale": {"type": "utc", "domain": [{"year": 2010, "month": 1, "date": 1, "utc": true}, {"year": 2012, "month": 12, "date": 20, "utc": true}]},
              "axis": {"orient": "bottom", "labels": false, "title": null, "tickCount": {"interval": "month", "step": 1},
                       "tickSize": {"condition": {"test": "utcmonth(datum.value) === 0", "value": 4.9}, "value": 2.8}}
            },
            "y": {
              "field": "hi", "type": "quantitative",
              "scale": {"domain": [-0.195, 0.63], "nice": false, "zero": false},
              "axis": {"title": "Seasonal", "values": [0, 0.5], "format": ".1f", "tickSize": 4.9, "labelPadding": 4, "titlePadding": 15}
            },
            "y2": {"field": "lo"}
          }
        },
        {
          "data": {"name": "seasonal"},
          "mark": {"type": "point", "opacity": 0},
          "encoding": {
            "x": {"field": "t", "type": "temporal", "axis": {"orient": "top", "labels": false, "ticks": false, "title": null}}
          }
        }
      ],
      "resolve": {"axis": {"x": "independent"}}
    },
    {
      "width": 549,
      "height": 64,
      "layer": [
        {
          "data": {"name": "residual_core"},
          "mark": {"type": "area", "color": "#1f77b4", "opacity": 1, "clip": true},
          "encoding": {
            "x": {
              "field": "t", "type": "temporal",
              "scale": {"type": "utc", "domain": [{"year": 2010, "month": 1, "date": 1, "utc": true}, {"year": 2012, "month": 12, "date": 20, "utc": true}]},
              "axis": {
                "orient": "bottom", "title": "FECHA", "titlePadding": 8, "titleX": 278,
                "tickCount": {"interval": "month", "step": 1},
                "tickSize": {"condition": {"test": "utcmonth(datum.value) === 0", "value": 4.9}, "value": 2.8},
                "labelExpr": "utcmonth(datum.value) === 0 ? ['Jan', utcFormat(datum.value, '%Y')] : (utcmonth(datum.value) === 6 ? 'Jul' : '')",
                "labelOverlap": false, "labelFlush": false, "labelBound": false,
                "labelAlign": "center", "labelBaseline": "top", "labelPadding": 10, "labelLineHeight": 17.5
              }
            },
            "y": {
              "field": "hi", "type": "quantitative",
              "scale": {"domain": [-0.319, 0.323], "nice": false, "zero": false},
              "axis": {"title": "Residual", "values": [-0.25, 0, 0.25], "format": ".2f", "tickSize": 4.9, "labelPadding": 4, "titlePadding": 15}
            },
            "y2": {"field": "lo"}
          }
        },
        {
          "data": {"name": "residual"},
          "mark": {"type": "line", "color": "#1f77b4", "strokeWidth": 2.1, "strokeJoin": "round", "clip": true},
          "encoding": {
            "x": {"field": "t", "type": "temporal", "axis": null},
            "y": {
              "field": "v", "type": "quantitative",
              "axis": {"title": "Residual", "values": [-0.25, 0, 0.25], "format": ".2f", "tickSize": 4.9, "labelPadding": 4, "titlePadding": 15}
            }
          }
        },
        {
          "data": {"name": "residual"},
          "mark": {"type": "point", "opacity": 0},
          "encoding": {
            "x": {"field": "t", "type": "temporal", "axis": {"orient": "top", "labels": false, "ticks": false, "title": null}}
          }
        }
      ],
      "resolve": {"axis": {"x": "independent"}}
    }
  ]
}
